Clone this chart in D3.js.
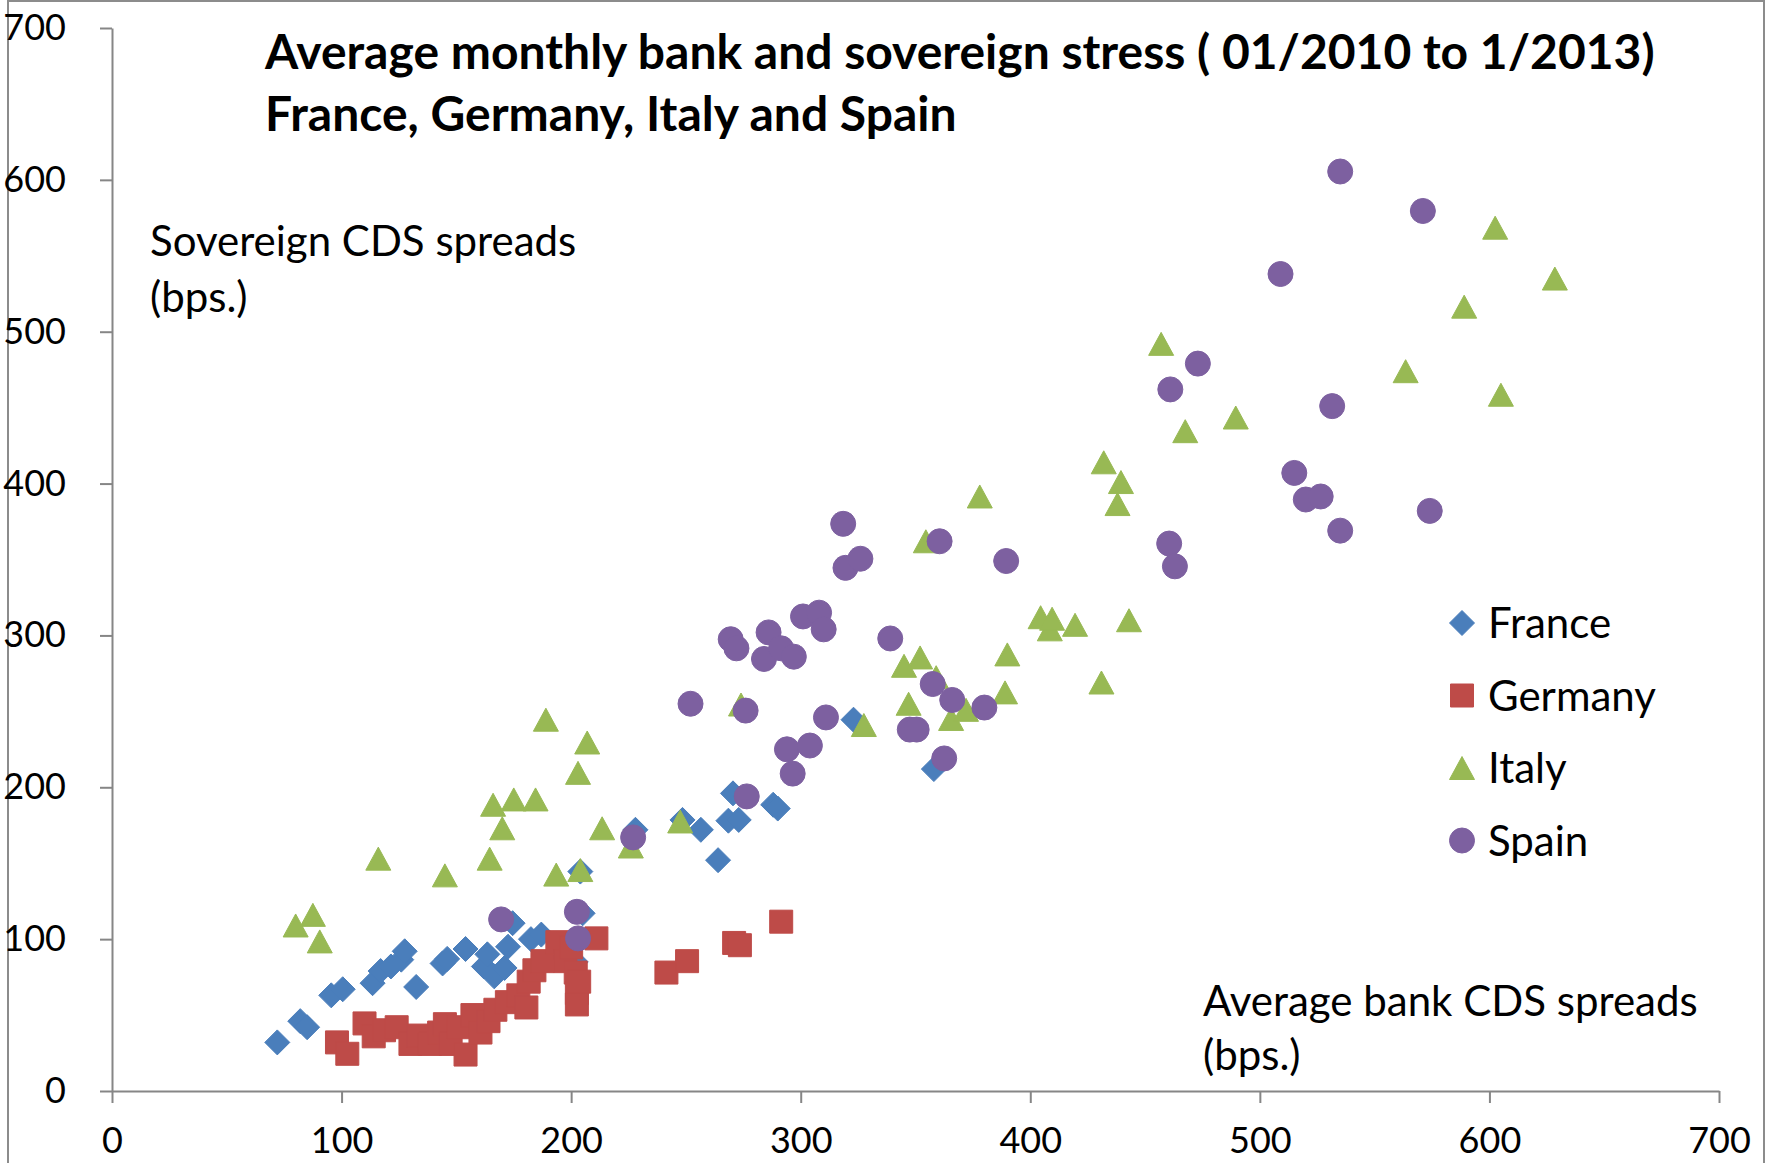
<!DOCTYPE html>
<html>
<head>
<meta charset="utf-8">
<script src="https://cdn.jsdelivr.net/npm/d3@7"></script>
<style>
  body { margin: 0; background: #fff; }
  svg text { font-family: Lato, "Open Sans", sans-serif; fill: #000; }
  .axis path, .axis line { stroke: #868686; stroke-width: 2; }
  .axis text { font-size: 36px; }
</style>
</head>
<body>
<svg id="chart" width="1768" height="1163"></svg>
<script>
// Series values: [average bank CDS, sovereign CDS] in bps.
const france = [
  [72, 32], [82, 46], [85, 42], [95.5, 63], [100.5, 67], [113.5, 71], [117, 79], [121.5, 82],
  [126, 86.5], [127.5, 92], [132.5, 68.5], [144, 84], [146, 87], [154, 93.5], [162, 82],
  [163.5, 90], [166.5, 75.5], [171, 81], [172.5, 95], [174.5, 110.5], [182.5, 100], [187, 103],
  [197, 88], [202, 85], [204, 144.5], [205, 117], [228, 172], [248.5, 178.5], [256.5, 172],
  [264, 152], [268.5, 178], [270.5, 196], [273, 178.5], [288, 188.5], [290, 186], [323, 244.5],
  [358, 212]
];
const germany = [
  [98, 32], [102.5, 24.5], [110, 44.5], [114, 36], [118.5, 40], [124, 42], [130, 31], [133.5, 36.5],
  [138.5, 31], [142.5, 38.5], [145, 44], [147.5, 31], [151, 42], [154, 24], [157, 50], [160.5, 38.5],
  [164, 46], [167, 53.5], [172, 58.5], [177, 63], [180.5, 55], [181.5, 72], [184, 79.5], [187.5, 85.5],
  [194, 98], [197.5, 85.5], [200, 94.5], [202, 78], [202.5, 64.5], [202.5, 57], [203.5, 72],
  [211, 100.5], [241.5, 78], [250.5, 85.5], [271, 97.5], [273.5, 96], [291.5, 111.5]
];
const italy = [
  [80, 109], [87.5, 116], [90.5, 98.5], [116, 153], [145, 142], [164.5, 153], [166, 188.5],
  [175, 192], [184.5, 192], [170, 173], [189, 244.5], [207, 229.5], [203, 209.5], [213.5, 173],
  [193.5, 142.5], [204, 145.5], [226, 161], [247.5, 177.5], [274, 254.5], [327.5, 241],
  [354.5, 362], [345, 280], [352, 285.5], [359, 272.5], [347, 255], [365.5, 245], [372, 251],
  [378, 391.5], [390, 287.5], [389, 262.5], [404.5, 312], [408.5, 304], [409.5, 311],
  [419.5, 307], [431, 269], [432, 414], [439.5, 401], [438, 386.5], [443, 310], [457, 492],
  [467.5, 434.5], [489.5, 443.5], [563.5, 474], [589, 516.5], [602.5, 568.5], [605, 458.5],
  [628.5, 535]
];
const spain = [
  [169.5, 113], [202.5, 118], [203, 100.5], [227, 167], [252, 255], [276.5, 194], [269.5, 297.5],
  [272, 291.5], [276, 250.5], [284, 284.5], [286, 302], [291.5, 291.5], [297, 286], [294, 225],
  [304, 227.5], [296.5, 209], [301, 312.5], [308, 315], [310, 304], [311, 246], [318.5, 373.5],
  [319.5, 344.5], [326, 350.5], [339, 298], [347.5, 238], [350.5, 238], [357.5, 268], [360.5, 362],
  [362.5, 219], [366, 257.5], [380, 252.5], [389.5, 349], [460.5, 360.5], [463, 345.5],
  [461, 462], [473, 479], [509, 538], [515, 407], [520, 389.5], [526.5, 391.5], [531.5, 451],
  [535, 605.5], [535, 369], [571, 579.5], [574, 382]
];

const seriesNames = ["France", "Germany", "Italy", "Spain"];
const seriesColors = ["#4a7ebb", "#be4b48", "#98b954", "#7d60a0"];
const seriesShapes = ["diamond", "square", "triangle", "circle"];
const seriesData = [france, germany, italy, spain];

const xTicks = [0, 100, 200, 300, 400, 500, 600, 700];
const yTicks = [0, 100, 200, 300, 400, 500, 600, 700];

const titleLines = [
  "Average monthly bank and sovereign stress ( 01/2010 to 1/2013)",
  "France, Germany, Italy and Spain"
];
const yTitleLines = ["Sovereign CDS spreads", "(bps.)"];
const xTitleLines = ["Average bank CDS spreads", "(bps.)"];

const svg = d3.select("#chart");
const W = +svg.attr("width");
const H = +svg.attr("height");

// outer chart frame (bottom edge is cut off in the picture)
svg.append("path")
    .attr("d", `M8,${H} V1 H${W - 4} V${H}`)
    .attr("fill", "none")
    .attr("stroke", "#8c8c8c")
    .attr("stroke-width", 2);

const x = d3.scaleLinear().domain([0, 700]).range([112, 1719]);
const y = d3.scaleLinear().domain([0, 700]).range([1091, 28]);

svg.append("g")
    .attr("class", "axis")
    .attr("transform", `translate(0,${y(0)})`)
    .call(d3.axisBottom(x).tickValues(xTicks).tickSize(12).tickPadding(24).tickSizeOuter(0))
    .call(g => g.selectAll("text").attr("dy", "0.71em"));

svg.append("g")
    .attr("class", "axis")
    .attr("transform", `translate(${x(0)},0)`)
    .call(d3.axisLeft(y).tickValues(yTicks).tickSize(12).tickPadding(34).tickSizeOuter(0));

// marker generator
function marker(shape, s) {
  if (shape === "diamond") {
    const r = s * 0.5;
    return `M0,${-r}L${r},0L0,${r}L${-r},0Z`;
  }
  if (shape === "square") {
    const r = s * 0.46;
    return `M${-r},${-r}H${r}V${r}H${-r}Z`;
  }
  if (shape === "triangle") {
    const w = s * 0.5, h = s * 0.46;
    return `M0,${-h}L${w},${h}L${-w},${h}Z`;
  }
  return d3.symbol(d3.symbolCircle, Math.PI * (s / 2) * (s / 2))();
}

const markerSize = 25;

seriesData.forEach((data, i) => {
  svg.append("g")
    .selectAll("path")
    .data(data)
    .enter().append("path")
    .attr("transform", d => `translate(${x(d[0])},${y(d[1])})`)
    .attr("d", marker(seriesShapes[i], markerSize))
    .attr("fill", seriesColors[i])
    .attr("stroke", seriesColors[i])
    .attr("stroke-width", 1);
});

// title
const title = svg.append("text")
    .attr("x", 265)
    .attr("y", 69)
    .attr("font-size", 48)
    .attr("font-weight", "bold");
title.selectAll("tspan")
    .data(titleLines)
    .enter().append("tspan")
    .attr("x", 265)
    .attr("dy", (d, i) => i === 0 ? 0 : 62)
    .text(d => d);

// axis titles
const yTitle = svg.append("text")
    .attr("x", 150)
    .attr("y", 256)
    .attr("font-size", 42);
yTitle.selectAll("tspan")
    .data(yTitleLines)
    .enter().append("tspan")
    .attr("x", 150)
    .attr("dy", (d, i) => i === 0 ? 0 : 56)
    .text(d => d);

const xTitle = svg.append("text")
    .attr("x", 1203)
    .attr("y", 1016)
    .attr("font-size", 42);
xTitle.selectAll("tspan")
    .data(xTitleLines)
    .enter().append("tspan")
    .attr("x", 1203)
    .attr("dy", (d, i) => i === 0 ? 0 : 54)
    .text(d => d);

// legend
const legend = svg.append("g")
    .selectAll("g")
    .data(seriesNames)
    .enter().append("g")
    .attr("transform", (d, i) => `translate(1462,${623 + i * 72.5})`);

legend.append("path")
    .attr("d", (d, i) => marker(seriesShapes[i], markerSize))
    .attr("fill", (d, i) => seriesColors[i])
    .attr("stroke", (d, i) => seriesColors[i]);

legend.append("text")
    .attr("x", 26)
    .attr("y", 15)
    .attr("font-size", 42)
    .text(d => d);
</script>
</body>
</html>
